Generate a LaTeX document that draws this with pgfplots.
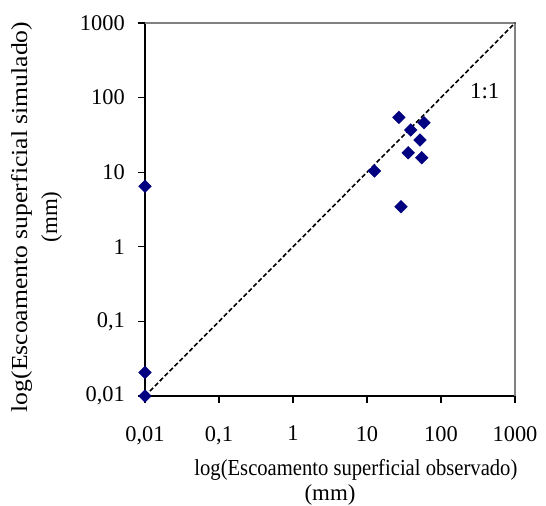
\documentclass[border=0pt]{standalone}
\usepackage{pgfplots}
\pgfplotsset{compat=1.18}
\usepackage{fontspec}
\setmainfont{Liberation Serif}
\definecolor{navy}{HTML}{000080}
\begin{document}
\begin{tikzpicture}
\useasboundingbox (-145bp,-110bp) rectangle (401bp,396bp);
\begin{axis}[
  at={(0,0)}, anchor=south west,
  scale only axis, width=370bp, height=373bp,
  xmode=log, ymode=log,
  xmin=0.01, xmax=1000, ymin=0.01, ymax=1000,
  xtick={0.01,0.1,1,10,100,1000},
  ytick={0.01,0.1,1,10,100,1000},
  xticklabels={{0,01},{0,1},1,10,100,1000},
  yticklabels={{0,01},{0,1},1,10,100,1000},
  xminorticks=false, yminorticks=false,
  axis x line*=bottom, axis y line*=left,
  axis line style={black, line width=1.3bp},
  tick style={black, line width=1.3bp},
  tick align=outside,
  major tick length=7bp,
  ticklabel style={font=\fontsize{22.5}{26}\selectfont},
  xticklabel style={anchor=north, inner sep=0pt, yshift=-23bp},
  yticklabel style={anchor=east, inner sep=0pt, xshift=-13bp},
  xlabel={\scalebox{0.9}[1]{log(Escoamento superficial observado)}},
  ylabel={\scalebox{1.12}[1]{log(Escoamento superficial simulado)}\\(mm)},
  xlabel style={at={(axis description cs:0.57,-0.168)}, anchor=north, align=center, inner sep=0pt, font=\fontsize{23}{24}\selectfont},
  ylabel style={at={(axis description cs:-0.224,0.48)}, anchor=south, align=center, inner sep=0pt, font=\fontsize{23}{30}\selectfont},
  clip=false,
]
\draw[gray, line width=1.3bp] (rel axis cs:0,1) -- (rel axis cs:1,1) -- (rel axis cs:1,0);
\addplot[black, line width=1.6bp, dash pattern=on 4.5bp off 2.5bp] coordinates {(0.01,0.01) (1000,1000)};
\addplot[only marks, mark=square*, mark size=4.5bp, mark options={rotate=45, fill=navy, draw=navy}] coordinates {
(0.01,6.5)
(0.01,0.0206)
(0.01,0.01)
(12.6,10.4)
(27,54.4)
(28.8,3.45)
(36,18.2)
(39,36.8)
(52,27)
(55,15.6)
(59,46)
};
\node[font=\fontsize{23}{26}\selectfont] at (axis cs:390,124) {1:1};
\node[font=\fontsize{23}{26}\selectfont, anchor=north, inner sep=0pt] at (axis description cs:0.5,-0.237) {(mm)};
\end{axis}
\end{tikzpicture}
\end{document}
